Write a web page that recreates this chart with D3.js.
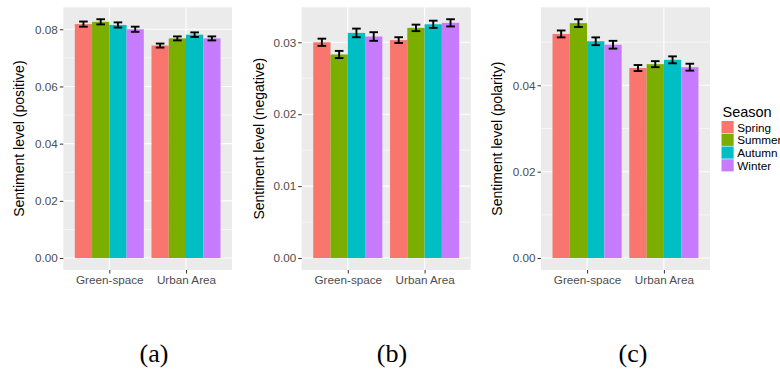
<!DOCTYPE html>
<html><head><meta charset="utf-8">
<script src="https://cdn.jsdelivr.net/npm/d3@7/dist/d3.min.js"></script>
<style>body{margin:0;background:#fff;overflow:hidden}svg{display:block}</style>
</head><body>
<svg id="c" width="780" height="371"></svg>
<script>
const categories = ["Green-space", "Urban Area"];
const seasons = ["Spring", "Summer", "Autumn", "Winter"];
const colors = ["#F8766D", "#7CAE00", "#00BFC4", "#C77CFF"];

// Panel (a): positive
const positiveGreen = [0.0818, 0.0826, 0.0815, 0.0800];
const positiveUrban = [0.0743, 0.0768, 0.0781, 0.0768];
const positiveErrGreen = [0.0009, 0.0009, 0.0009, 0.0009];
const positiveErrUrban = [0.0007, 0.0007, 0.0008, 0.0007];
const positiveTicks = [0, 0.02, 0.04, 0.06, 0.08];

// Panel (b): negative
const negativeGreen = [0.0300, 0.0283, 0.0313, 0.0308];
const negativeUrban = [0.0303, 0.0320, 0.0325, 0.0327];
const negativeErrGreen = [0.0005, 0.0005, 0.0006, 0.0006];
const negativeErrUrban = [0.0004, 0.00045, 0.0005, 0.0005];
const negativeTicks = [0, 0.01, 0.02, 0.03];

// Panel (c): polarity
const polarityGreen = [0.0519, 0.0544, 0.0502, 0.0494];
const polarityUrban = [0.0440, 0.0449, 0.0459, 0.0442];
const polarityErrGreen = [0.0008, 0.0009, 0.0009, 0.0009];
const polarityErrUrban = [0.0007, 0.0007, 0.0008, 0.0008];
const polarityTicks = [0, 0.02, 0.04];

const captions = ["(a)", "(b)", "(c)"];
const legendTitle = "Season";

const svg = d3.select("#c");
const FONT = "'Liberation Sans', Arial, sans-serif";
const TICKFS = "11.7px";

function panel(cfg) {
  const {x0, x1, y0, y1, values, errs, ticks, title, titleX, caption, captionX} = cfg;
  const g = svg.append("g");
  const rows = [];
  categories.forEach((c, ci) => seasons.forEach((s, si) => {
    rows.push({cat: c, season: s, si, v: values[ci][si], e: errs[ci][si]});
  }));
  const maxV = d3.max(rows, d => d.v + d.e);
  const pad = maxV * 0.05;
  const y = d3.scaleLinear().domain([-pad, maxV + pad]).range([y1, y0]);
  // discrete positions 1,2 over limits 0.4..2.6 (ggplot expansion)
  const xu = d3.scaleLinear().domain([0.4, 2.6]).range([x0, x1]);
  const catPos = c => xu(categories.indexOf(c) + 1);
  const inner = d3.scaleBand().domain(seasons).range([-0.45, 0.45]).padding(0);
  const unit = xu(1) - xu(0);
  const bw = inner.bandwidth() * unit;

  g.append("rect").attr("x", x0).attr("y", y0).attr("width", x1 - x0).attr("height", y1 - y0).attr("fill", "#EBEBEB");
  const step = ticks[1] - ticks[0];
  const minors = ticks.map(t => t + step / 2).concat([ticks[0] - step / 2]);
  g.selectAll(".mn").data(minors.filter(m => y(m) >= y0 && y(m) <= y1)).enter().append("line")
    .attr("x1", x0).attr("x2", x1).attr("y1", d => y(d)).attr("y2", d => y(d))
    .attr("stroke", "#fff").attr("stroke-width", 0.55);
  g.selectAll(".mj").data(ticks).enter().append("line")
    .attr("x1", x0).attr("x2", x1).attr("y1", d => y(d)).attr("y2", d => y(d))
    .attr("stroke", "#fff").attr("stroke-width", 1.1);
  g.selectAll(".vj").data(categories).enter().append("line")
    .attr("x1", d => catPos(d)).attr("x2", d => catPos(d)).attr("y1", y0).attr("y2", y1)
    .attr("stroke", "#fff").attr("stroke-width", 1.1);

  g.selectAll(".bar").data(rows).enter().append("rect")
    .attr("x", d => catPos(d.cat) + inner(d.season) * unit)
    .attr("width", bw)
    .attr("y", d => y(d.v))
    .attr("height", d => y(0) - y(d.v))
    .attr("fill", d => colors[d.si]);
  const eg = g.selectAll(".eb").data(rows).enter().append("g")
    .attr("stroke", "#000").attr("stroke-width", 1.9).attr("fill", "none");
  const cx = d => catPos(d.cat) + inner(d.season) * unit + bw / 2;
  const cap = bw * 0.25;
  eg.append("line").attr("x1", cx).attr("x2", cx).attr("y1", d => y(d.v + d.e)).attr("y2", d => y(d.v - d.e));
  eg.append("line").attr("x1", d => cx(d) - cap).attr("x2", d => cx(d) + cap).attr("y1", d => y(d.v + d.e)).attr("y2", d => y(d.v + d.e));
  eg.append("line").attr("x1", d => cx(d) - cap).attr("x2", d => cx(d) + cap).attr("y1", d => y(d.v - d.e)).attr("y2", d => y(d.v - d.e));

  const ya = d3.axisLeft(y).tickValues(ticks).tickFormat(d3.format(".2f")).tickSize(3.5).tickPadding(2);
  const yg = g.append("g").attr("transform", `translate(${x0},0)`).call(ya);
  yg.select(".domain").remove();
  yg.selectAll("line").attr("stroke", "#333").attr("stroke-width", 1);
  yg.selectAll("text").attr("fill", "#4D4D4D").style("font-family", FONT).style("font-size", TICKFS);
  const xa = d3.axisBottom(d3.scaleOrdinal().domain(categories).range(categories.map(c => catPos(c))))
    .tickSize(3.5).tickPadding(2.5);
  const xg = g.append("g").attr("transform", `translate(0,${y1})`).call(xa);
  xg.select(".domain").remove();
  xg.selectAll("line").attr("stroke", "#333").attr("stroke-width", 1);
  xg.selectAll("text").attr("fill", "#4D4D4D").style("font-family", FONT).style("font-size", TICKFS);

  g.append("text").attr("transform", `translate(${titleX},${(y0 + y1) / 2}) rotate(-90)`)
    .attr("text-anchor", "middle").attr("dominant-baseline", "central")
    .style("font-family", FONT).style("font-size", "14px").attr("fill", "#000").text(title);
  svg.append("text").attr("x", captionX).attr("y", 362).attr("text-anchor", "middle")
    .style("font-family", "'Liberation Serif', serif").style("font-size", "26px").attr("fill", "#000").text(caption);
}

panel({x0: 63.3, x1: 232, y0: 7.3, y1: 270,
  values: [positiveGreen, positiveUrban], errs: [positiveErrGreen, positiveErrUrban], ticks: positiveTicks,
  title: "Sentiment level (positive)", titleX: 18.5, caption: captions[0], captionX: 154});
panel({x0: 301.7, x1: 470.7, y0: 7.3, y1: 270,
  values: [negativeGreen, negativeUrban], errs: [negativeErrGreen, negativeErrUrban], ticks: negativeTicks,
  title: "Sentiment level (negative)", titleX: 258.5, caption: captions[1], captionX: 392});
panel({x0: 541, x1: 710, y0: 7.3, y1: 270,
  values: [polarityGreen, polarityUrban], errs: [polarityErrGreen, polarityErrUrban], ticks: polarityTicks,
  title: "Sentiment level (polarity)", titleX: 497, caption: captions[2], captionX: 633});

const lg = svg.append("g");
lg.append("text").attr("x", 722.5).attr("y", 116.7).style("font-family", FONT).style("font-size", "14.5px")
  .attr("fill", "#000").text(legendTitle);
const keyY = d3.scaleBand().domain(seasons).range([120.7, 171.7]);
seasons.forEach((s, i) => {
  lg.append("rect").attr("x", 721.5).attr("y", keyY(s) + 0.3).attr("width", keyY.bandwidth() - 0.6)
    .attr("height", keyY.bandwidth() - 0.6).attr("fill", colors[i]);
  lg.append("text").attr("x", 737.3).attr("y", keyY(s) + keyY.bandwidth() / 2).attr("dominant-baseline", "central")
    .style("font-family", FONT).style("font-size", "11.7px").attr("fill", "#000").text(s);
});
</script>
</body></html>
